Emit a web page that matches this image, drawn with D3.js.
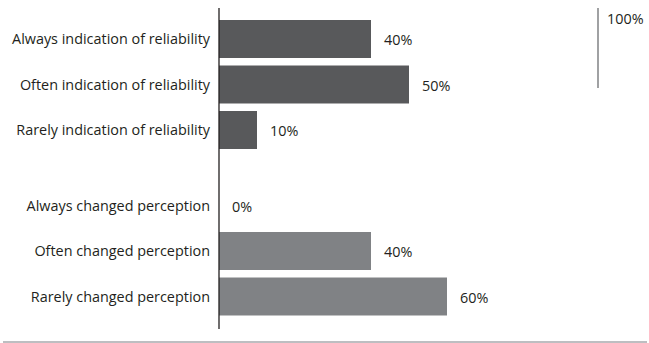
<!DOCTYPE html>
<html>
<head>
<meta charset="utf-8">
<script src="https://cdn.jsdelivr.net/npm/d3@7/dist/d3.min.js"></script>
<style>
  html, body { margin: 0; padding: 0; background: #fff; }
  svg { display: block; }
  text { font-family: "Open Sans", "Noto Sans", sans-serif; fill: #231f20; }
</style>
</head>
<body>
<svg id="chart" width="649" height="343"></svg>
<script>
// Survey answers, two groups of three rows
const categories = [
  "Always indication of reliability",
  "Often indication of reliability",
  "Rarely indication of reliability",
  "Always changed perception",
  "Often changed perception",
  "Rarely changed perception"
];
const groups = [1, 1, 1, 2, 2, 2];
const values = [40, 50, 10, 0, 40, 60];
const maxLabel = "100%";

const groupColor = { 1: "#58595b", 2: "#808285" };
const groupGap = 30;
const fontSize = 14.4;

const svg = d3.select("#chart");

const x = d3.scaleLinear().domain([0, 100]).range([219, 599]);
const y = d3.scaleBand()
  .domain(categories)
  .range([16.25, 289.25])
  .paddingInner(0.165)
  .paddingOuter(0.0825);

const rowY = (c, i) => y(c) + (groups[i] === 2 ? groupGap : 0);

const rows = categories.map((c, i) => ({ c, v: values[i], g: groups[i], i }));

// bars
svg.append("g").selectAll("rect")
  .data(rows)
  .join("rect")
  .attr("x", x(0))
  .attr("y", d => rowY(d.c, d.i))
  .attr("width", d => x(d.v) - x(0))
  .attr("height", y.bandwidth())
  .attr("fill", d => groupColor[d.g]);

// category labels
svg.append("g").selectAll("text")
  .data(rows)
  .join("text")
  .attr("x", 210)
  .attr("y", d => rowY(d.c, d.i) + y.bandwidth() / 2)
  .attr("dy", "0.35em")
  .attr("text-anchor", "end")
  .attr("font-size", fontSize)
  .text(d => d.c);

// value labels
svg.append("g").selectAll("text")
  .data(rows)
  .join("text")
  .attr("x", d => x(d.v) + 13)
  .attr("y", d => rowY(d.c, d.i) + y.bandwidth() / 2 + 1)
  .attr("dy", "0.35em")
  .attr("font-size", fontSize)
  .text(d => d.v + "%");

// category axis line
svg.append("line")
  .attr("x1", x(0)).attr("x2", x(0))
  .attr("y1", 8).attr("y2", 329)
  .attr("stroke", "#231f20")
  .attr("stroke-width", 1.3);

// 100% reference marker
svg.append("line")
  .attr("x1", x(100) - 1).attr("x2", x(100) - 1)
  .attr("y1", 8).attr("y2", 88)
  .attr("stroke", "#808285")
  .attr("stroke-width", 1.5);
svg.append("text")
  .attr("x", x(100) + 8)
  .attr("y", 24)
  .attr("font-size", fontSize)
  .text(maxLabel);

// bottom rule
svg.append("line")
  .attr("x1", 3).attr("x2", 647)
  .attr("y1", 342).attr("y2", 342)
  .attr("stroke", "#a7a9ac")
  .attr("stroke-width", 1.3);
</script>
</body>
</html>
